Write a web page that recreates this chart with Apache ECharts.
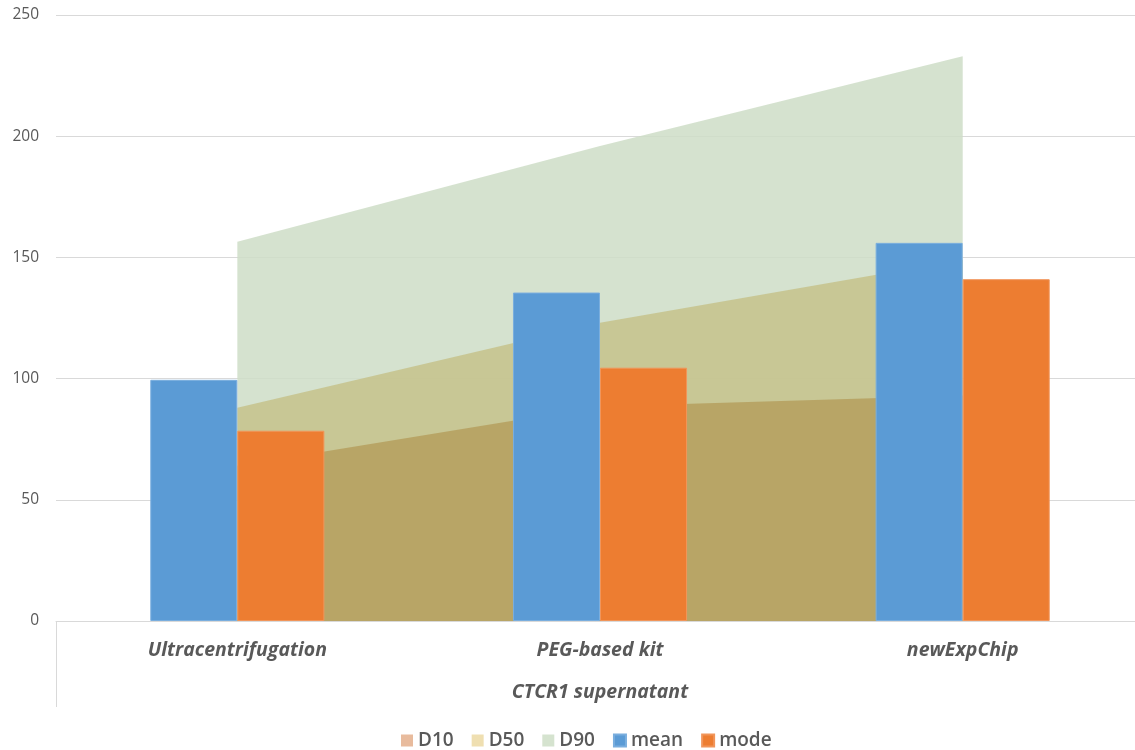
<!DOCTYPE html>
<html>
<head>
<meta charset="utf-8">
<style>
  html, body { margin: 0; padding: 0; background: #ffffff; }
  #chart { width: 1135px; height: 750px; }
</style>
<script src="https://cdn.jsdelivr.net/npm/echarts@6/dist/echarts.min.js"></script>
</head>
<body>
<div id="chart"></div>
<script>
// Particle size statistics per isolation method
const categories = ['Ultracentrifugation', 'PEG-based kit', 'newExpChip'];
const groupLabel = ['CTCR1 supernatant'];
const d10 = [64, 88.5, 93];
const d50 = [88, 123, 149];
const d90 = [156.5, 196, 233];
const mean = [99.5, 135.5, 156];
const mode = [78.5, 104.5, 141];

const labelFont = 'Open Sans';
const textGray = '#595959';

const chart = echarts.init(document.getElementById('chart'));

function band(name, data, fill, z) {
  return {
    name: name,
    type: 'line',
    xAxisIndex: 0,
    data: data,
    showSymbol: false,
    symbol: 'none',
    smooth: false,
    z: z,
    lineStyle: { width: 0, color: fill },
    itemStyle: { color: fill },
    areaStyle: { color: fill, opacity: 1 },
    emphasis: { disabled: true }
  };
}

const catLabel = {
  fontFamily: labelFont,
  fontSize: 19.5,
  fontWeight: 'bold',
  fontStyle: 'italic',
  color: textGray
};

chart.setOption({
  animation: false,
  backgroundColor: '#ffffff',
  // the plot runs slightly past the right edge of the page
  grid: {
    left: 56, right: -9, top: 15, bottom: 129,
    containLabel: false,
    outerBoundsMode: 'none'
  },
  legend: {
    top: 726,
    left: 396,
    icon: 'rect',
    itemWidth: 12,
    itemHeight: 12,
    itemGap: 18,
    textStyle: { fontFamily: labelFont, fontSize: 19, fontWeight: 600, color: textGray },
    data: [
      { name: 'D10', itemStyle: { color: '#e8bb9d' } },
      { name: 'D50', itemStyle: { color: '#efdfb1' } },
      { name: 'D90', itemStyle: { color: '#d5e3cf' } },
      { name: 'mean', itemStyle: { color: '#5b9bd5' } },
      { name: 'mode', itemStyle: { color: '#ed7d31' } }
    ]
  },
  xAxis: [
    {
      type: 'category',
      data: categories,
      position: 'bottom',
      axisLine: { show: true, lineStyle: { color: '#d9d9d9', width: 1 } },
      axisTick: { show: false },
      axisLabel: Object.assign({ margin: 19 }, catLabel),
      splitLine: { show: false }
    },
    {
      type: 'category',
      data: groupLabel,
      position: 'bottom',
      axisLine: { show: false },
      axisTick: { show: true, length: 86, lineStyle: { color: '#d9d9d9', width: 1 } },
      axisLabel: Object.assign({ margin: 61 }, catLabel),
      splitLine: { show: false }
    }
  ],
  yAxis: {
    type: 'value',
    min: 0,
    max: 250,
    interval: 50,
    axisLine: { show: false },
    axisTick: { show: false },
    axisLabel: { margin: 17, fontFamily: labelFont, fontSize: 15.5, color: textGray },
    splitLine: { lineStyle: { color: '#d9d9d9', width: 1 } }
  },
  series: [
    band('D10', d10, 'rgba(181,159,94,0.85)', 4),
    band('D50', d50, 'rgba(198,194,139,0.85)', 3),
    band('D90', d90, 'rgba(206,221,199,0.85)', 2),
    {
      name: 'mean',
      type: 'bar',
      xAxisIndex: 0,
      data: mean,
      barWidth: '24%',
      barGap: '0%',
      z: 6,
      itemStyle: { color: '#5b9bd5', borderColor: '#7aaede', borderWidth: 1 }
    },
    {
      name: 'mode',
      type: 'bar',
      xAxisIndex: 0,
      data: mode,
      barWidth: '24%',
      barGap: '0%',
      z: 6,
      itemStyle: { color: '#ed7d31', borderColor: '#f1955a', borderWidth: 1 }
    }
  ]
});
</script>
</body>
</html>
